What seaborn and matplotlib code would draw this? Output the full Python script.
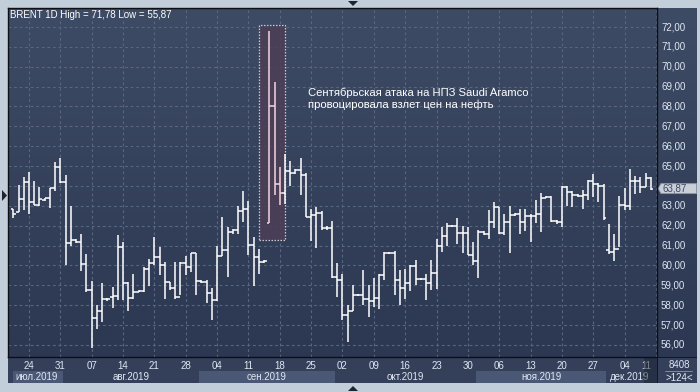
import numpy as np
import pandas as pd
import matplotlib
matplotlib.use("Agg")
import matplotlib.pyplot as plt
import matplotlib.transforms as mtransforms
from matplotlib.colors import LinearSegmentedColormap
from matplotlib.font_manager import FontProperties, findfont
from matplotlib.patches import Rectangle, Polygon
import seaborn as sns

# ------------------------------------------------------------------
# Data (daily bars incl. short Sunday sessions, Saturdays skipped)
# ------------------------------------------------------------------
first_day = "2019-07-21"
last_day = "2019-12-10"

opens = [62.83, 62.70, 63.37, 64.20, 63.17, 63.05, 63.30, 63.38, 63.88, 64.95,
         64.22, 61.13, 61.30, 61.20, 60.07, 58.75, 57.38, 57.72, 58.33, 58.40,
         58.45, 60.95, 59.12, 58.37, 58.67, 58.70, 59.83, 60.13, 60.45, 60.03,
         59.17, 58.87, 58.42, 60.13, 59.92, 60.63, 59.20, 59.15, 58.63, 58.25,
         60.50, 60.80, 61.67, 61.80, 62.75, 62.83, 61.05, 60.42, 60.17, 62.12,
         68.04, 64.08, 63.63, 64.75, 64.65, 64.80, 64.53, 62.42, 62.55, 62.62,
         61.88, 61.90, 59.42, 59.25, 57.50, 57.70, 58.50, 58.50, 58.33, 58.20,
         58.38, 59.50, 60.63, 60.65, 59.25, 58.87, 59.12, 59.97, 59.30, 59.30,
         59.12, 59.63, 61.00, 61.50, 62.00, 62.00, 61.63, 61.63, 60.55, 60.25,
         61.70, 61.60, 62.20, 62.92, 61.65, 62.20, 62.55, 62.60, 62.20, 62.50,
         62.50, 62.60, 63.40, 63.45, 62.25, 62.20, 63.93, 63.70, 63.55, 63.50,
         63.55, 64.25, 64.10, 64.00, 60.80, 60.70, 60.85, 63.05, 63.00, 64.25,
         64.25, 63.96, 64.40]
highs = [62.85, 64.03, 64.47, 64.70, 64.25, 63.97, 63.40, 63.92, 65.20, 65.43,
         64.53, 62.97, 61.32, 61.58, 60.58, 59.22, 58.03, 59.13, 58.38, 58.92,
         61.53, 61.17, 59.17, 59.55, 58.75, 59.92, 60.33, 61.45, 60.95, 60.20,
         59.17, 60.17, 60.17, 60.47, 60.63, 60.63, 59.25, 59.28, 58.87, 61.00,
         62.42, 61.92, 61.85, 63.00, 63.75, 63.25, 61.42, 60.83, 60.28, 71.78,
         69.25, 64.97, 65.60, 65.26, 64.85, 65.40, 64.67, 62.83, 62.92, 62.76,
         62.00, 62.25, 60.13, 59.55, 58.03, 59.00, 58.55, 59.75, 59.00, 59.38,
         59.58, 60.67, 60.70, 60.72, 59.75, 59.80, 60.05, 60.28, 59.35, 59.55,
         60.30, 61.33, 61.92, 62.12, 62.05, 62.38, 61.97, 61.92, 61.17, 61.78,
         61.72, 62.78, 63.17, 62.95, 62.60, 63.00, 62.65, 62.85, 62.85, 62.60,
         63.30, 63.67, 63.50, 63.50, 62.30, 64.00, 64.00, 63.75, 63.62, 63.80,
         64.30, 64.60, 64.15, 64.10, 62.10, 61.60, 63.50, 63.88, 64.84, 64.50,
         64.47, 64.67, 64.43]
lows = [62.40, 62.70, 62.80, 62.58, 63.03, 62.97, 63.25, 62.88, 63.75, 64.17,
        60.03, 61.00, 61.13, 59.70, 58.67, 55.87, 56.80, 57.17, 58.22, 57.88,
        58.25, 58.25, 57.70, 58.33, 58.67, 58.67, 58.95, 60.03, 59.50, 58.30,
        58.75, 58.30, 58.50, 59.53, 59.67, 58.50, 59.10, 58.12, 57.25, 58.20,
        60.50, 59.42, 61.60, 61.58, 62.17, 60.53, 58.97, 59.58, 60.15, 62.12,
        63.55, 63.04, 63.10, 64.02, 64.62, 63.55, 62.42, 61.25, 60.90, 61.78,
        61.80, 59.37, 58.42, 57.25, 56.17, 57.70, 58.45, 58.00, 57.42, 57.92,
        57.83, 59.25, 60.60, 58.50, 58.00, 58.33, 58.72, 59.00, 59.25, 58.25,
        58.75, 58.83, 60.67, 61.00, 61.95, 61.08, 60.63, 60.55, 60.05, 59.38,
        61.55, 61.33, 61.90, 61.60, 61.55, 60.65, 62.50, 61.60, 61.75, 61.20,
        62.13, 61.70, 63.40, 62.20, 62.10, 61.95, 63.00, 62.95, 63.45, 62.85,
        63.30, 63.45, 63.20, 62.30, 60.60, 60.25, 60.95, 62.80, 62.79, 63.58,
        63.67, 63.93, 63.80]
closes = [62.58, 63.37, 64.22, 63.17, 63.05, 63.33, 63.38, 63.88, 64.95, 64.22,
          61.13, 61.30, 61.20, 60.07, 58.75, 57.38, 57.72, 58.33, 58.30, 58.45,
          60.95, 59.12, 58.37, 58.67, 58.70, 59.83, 60.13, 60.45, 60.03, 59.17,
          58.87, 58.42, 60.13, 59.92, 60.63, 59.20, 59.15, 58.63, 58.25, 60.50,
          60.80, 61.67, 61.80, 62.75, 62.83, 61.05, 60.42, 60.17, 60.25, 68.04,
          64.08, 63.63, 64.75, 64.65, 64.80, 64.53, 62.42, 62.55, 62.62, 61.88,
          61.90, 59.42, 59.25, 57.50, 57.70, 58.50, 58.50, 58.33, 58.20, 58.38,
          59.50, 60.63, 60.65, 59.25, 58.87, 59.12, 59.97, 59.30, 59.30, 59.12,
          59.63, 61.00, 61.50, 62.00, 62.00, 61.63, 61.63, 60.55, 60.25, 61.70,
          61.60, 62.20, 62.92, 61.65, 62.20, 62.55, 62.60, 62.20, 62.50, 62.50,
          62.60, 63.40, 63.45, 62.25, 62.20, 63.93, 63.70, 63.55, 63.50, 63.55,
          64.25, 64.10, 64.00, 62.37, 60.70, 60.85, 63.05, 63.00, 64.25, 64.25,
          63.96, 64.40, 63.87]

marked_bars = [49, 50, 51]          # 16-18 Sep 2019
price_ticks = list(range(56, 73))
month_names = ["июл", "авг", "сен", "окт", "ноя", "дек"]
title_text = "BRENT 1D High = 71,78 Low = 55,87"
note_text = "Сентябрьская атака на НПЗ Saudi Aramco\nпровоцировала взлет цен на нефть"
bars_total = "8408"
bars_shown = ">124<"

# ------------------------------------------------------------------
# Style
# ------------------------------------------------------------------
W, H = 700, 392
FRAME = "#c3cedb"
BG_TOP = "#3e4b65"
BG_BOTTOM = "#2c3851"
PANEL = "#34405a"
BAND = "#4b5875"
GRID = "#5a6681"
TEXT = "#dfe7f4"
PINK = "#f6d4de"
BOX_FILL = "#4c3f57"

sns.set_theme(style="dark")
plt.rcParams["font.family"] = ["Liberation Sans", "DejaVu Sans"]


def font_ok(name):
    try:
        findfont(FontProperties(family=name), fallback_to_default=False)
        return True
    except ValueError:
        return False


narrow = font_ok("Liberation Sans Narrow")
note_family = ["Liberation Sans Narrow", "DejaVu Sans"] if narrow else ["Liberation Sans", "DejaVu Sans"]
note_size = 9.6 if narrow else 8.1

days = pd.date_range(first_day, last_day, freq="D")
days = days[days.dayofweek != 5]
x = np.arange(len(days))
opens, highs, lows, closes = map(np.array, (opens, highs, lows, closes))

# pixel layout -> limits
XLIM = (-1.013, 123.2)
YLIM = (55.396, 72.956)

fig = plt.figure(figsize=(W / 100, H / 100), dpi=100, facecolor=FRAME)


def px_axes(x0, y0, x1, y1):
    return fig.add_axes([x0 / W, 1 - y1 / H, (x1 - x0) / W, (y1 - y0) / H])


def gradient(a, xlim, ylim):
    cmap = LinearSegmentedColormap.from_list("bg", [BG_TOP, BG_BOTTOM])
    a.imshow(np.linspace(0, 1, 256).reshape(-1, 1), cmap=cmap, aspect="auto",
             extent=[xlim[0], xlim[1], ylim[0], ylim[1]], zorder=0)
    a.set_xlim(xlim)
    a.set_ylim(ylim)


ax_r = px_axes(657, 8, 697, 357)
ax_b = px_axes(8, 357, 657, 383)
ax_c = px_axes(657, 357, 697, 383)
ax = px_axes(8, 8, 657, 357)

# ---- main panel ----
gradient(ax, XLIM, YLIM)
wed = x[days.dayofweek == 2]
wed = np.append(wed, x[-1] + 1)     # 11 Dec
ax.hlines(price_ticks, XLIM[0], XLIM[1], colors=GRID, lw=0.8,
          linestyles=(0, (2.5, 2.5)), zorder=1)
ax.vlines(wed, YLIM[0], YLIM[1], colors=GRID, lw=0.8,
          linestyles=(0, (2.5, 2.5)), zorder=1)

# highlight box around the Saudi Aramco spike
mk = np.array(marked_bars)
ax.add_patch(Rectangle((mk.min() - 1.96, lows[mk].min() - 0.82),
                       (mk.max() + 1.08) - (mk.min() - 1.96),
                       (highs[mk].max() + 0.32) - (lows[mk].min() - 0.82),
                       facecolor=BOX_FILL, alpha=0.85, edgecolor="#e4dde8",
                       lw=0.9, linestyle=(0, (1.2, 1.2)), zorder=2))

colors = [PINK if i in marked_bars else "white" for i in x]
tick = 0.5
ax.vlines(x, lows, highs, colors=colors, lw=1.1, zorder=4)
ax.hlines(opens, x - tick, x, colors=colors, lw=1.1, zorder=4)
ax.hlines(closes, x, x + tick, colors=colors, lw=1.1, zorder=4)

ax.text(56.5, 68.95, note_text, color="white", fontsize=note_size,
        family=note_family, va="top", ha="left", linespacing=1.2, zorder=5)
ax.text(0.003, 0.993, title_text, transform=ax.transAxes, color="white",
        fontsize=7, va="top", ha="left", zorder=5)

ax.set_xlim(XLIM)
ax.set_ylim(YLIM)
ax.set_xticks([])
ax.set_yticks([])
for s in ax.spines.values():
    s.set_color("#0d0f14")
    s.set_linewidth(1.0)
    s.set_visible(True)

# ---- price axis on the right ----
gradient(ax_r, (0, 1), YLIM)
ax_r.set_xticks([])
ax_r.set_yticks([])
for s in ax_r.spines.values():
    s.set_visible(False)
tr_r = mtransforms.blended_transform_factory(ax_r.transAxes, ax_r.transData)
last = closes[-1]
for p in price_ticks:
    if abs(p - last) < 0.4:
        continue            # hidden under the last-price marker
    ax_r.text(0.1, p, f"{p},00", transform=tr_r, color=TEXT, fontsize=7,
              va="center", ha="left", zorder=3)
ax_r.add_patch(Polygon([(0.03, last), (0.1, last + 0.25), (0.99, last + 0.25),
                        (0.99, last - 0.25), (0.1, last - 0.25)],
                       closed=True, transform=tr_r, facecolor="#c9ced7",
                       edgecolor="#8c95a5", lw=0.7, zorder=4))
ax_r.text(0.14, last, f"{last:.2f}".replace(".", ","), transform=tr_r,
          color="#3c4863", fontsize=7, va="center", ha="left", zorder=5)

# ---- date axis ----
ax_b.set_facecolor(PANEL)
ax_b.set_xlim(XLIM)
ax_b.set_ylim(0, 1)
ax_b.set_xticks([])
ax_b.set_yticks([])
for s in ax_b.spines.values():
    s.set_visible(False)
groups = pd.Series(x).groupby(days.month)
for k, (m, idx) in enumerate(groups):
    a, b = idx.min(), idx.max()
    if k % 2 == 0:
        left = max(a - 0.5, XLIM[0] + 0.9)
        ax_b.add_patch(Rectangle((left, 0), b + 0.5 - left, 0.46,
                                 facecolor=BAND, edgecolor="none", zorder=1))
    ax_b.text((a + b) / 2, 0.25, f"{month_names[k]}.2019", color=TEXT,
              fontsize=7, ha="center", va="center", zorder=2)
day_labels = list(days[days.dayofweek == 2].strftime("%d")) + ["11"]
for pos, lab in zip(wed, day_labels):
    pos = min(pos, XLIM[1] - 2.0)
    ax_b.text(pos, 0.654, lab, color=TEXT, fontsize=7, ha="center",
              va="center", zorder=2)
ax_b.add_patch(Rectangle((120.8, 0), XLIM[1] - 120.8, 1, facecolor="#1c2334",
                         alpha=0.5, edgecolor="none", zorder=3))
ax_b.axhline(1, color="#0d0f14", lw=1.2, zorder=4)

# ---- corner ----
ax_c.set_facecolor(PANEL)
ax_c.set_xlim(0, 1)
ax_c.set_ylim(0, 1)
ax_c.set_xticks([])
ax_c.set_yticks([])
for s in ax_c.spines.values():
    s.set_visible(False)
ax_c.text(0.56, 0.71, bars_total, color=TEXT, fontsize=7, ha="center", va="center")
ax_c.plot([0.2, 0.88], [0.47, 0.47], color="#7d8aa3", lw=0.7)
ax_c.text(0.56, 0.21, bars_shown, color=TEXT, fontsize=7, ha="center", va="center")
ax_c.axvline(0, color="#0d0f14", lw=1.2)
ax_c.axhline(1, color="#0d0f14", lw=1.2)

# ---- little UI arrows on the frame ----
tri = dict(closed=True, transform=fig.transFigure, facecolor="#1d2433",
           edgecolor="none")
fig.add_artist(Polygon([(348 / W, 1 - 1 / H), (358 / W, 1 - 1 / H), (353 / W, 1 - 6 / H)], **tri))
fig.add_artist(Polygon([(348 / W, 1 - 391 / H), (358 / W, 1 - 391 / H), (353 / W, 1 - 386 / H)], **tri))
fig.add_artist(Polygon([(2 / W, 1 - 190 / H), (2 / W, 1 - 201 / H), (7 / W, 1 - 195.5 / H)], **tri))

fig.savefig("out.png", dpi=100, facecolor=FRAME)
